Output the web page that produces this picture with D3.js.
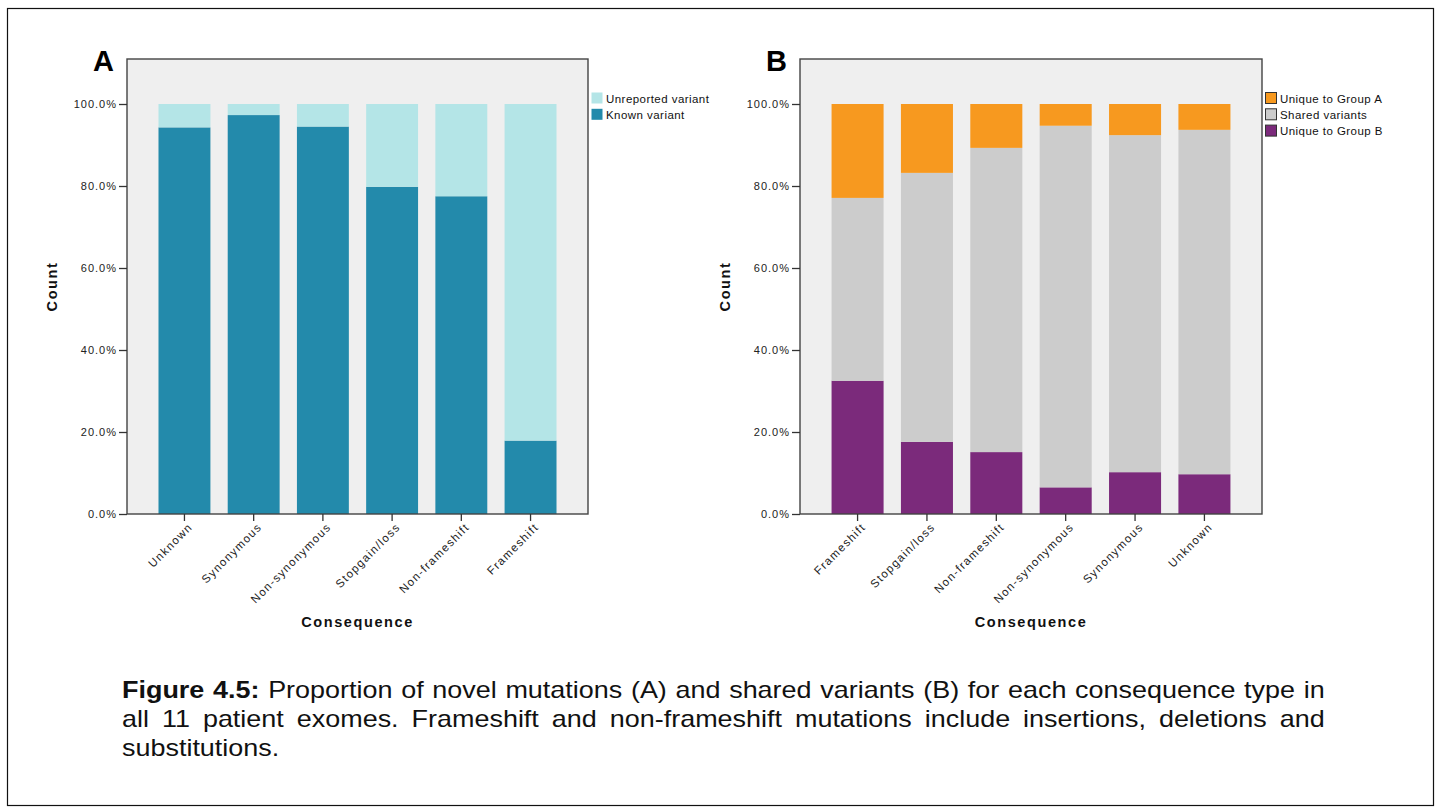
<!DOCTYPE html>
<html>
<head>
<meta charset="utf-8">
<script src="https://cdn.jsdelivr.net/npm/d3@7/dist/d3.min.js"></script>
<style>
  html, body { margin: 0; padding: 0; background: #fff; }
  svg { display: block; }
  .tick text { font-family: "Liberation Sans", Arial, sans-serif; fill: #222; }
  .y-axis .tick text { font-size: 11px; letter-spacing: 1px; }
  .x-axis .tick text { font-size: 11.5px; letter-spacing: 1.3px; }
</style>
</head>
<body>
<svg id="fig" width="1442" height="812"></svg>
<script>
// Panel A: share of novel (unreported) vs known variants per consequence type
const consequencesA = ["Unknown", "Synonymous", "Non-synonymous", "Stopgain/loss", "Non-frameshift", "Frameshift"];
const knownVariant = [94.3, 97.3, 94.5, 79.8, 77.5, 17.9];
const unreportedVariant = [5.7, 2.7, 5.5, 20.2, 22.5, 82.1];

// Panel B: variants unique to each group vs shared
const consequencesB = ["Frameshift", "Stopgain/loss", "Non-frameshift", "Non-synonymous", "Synonymous", "Unknown"];
const uniqueToGroupB = [32.5, 17.6, 15.1, 6.5, 10.2, 9.7];
const sharedVariants = [44.6, 65.6, 74.2, 88.2, 82.2, 84.0];
const uniqueToGroupA = [22.9, 16.8, 10.7, 5.3, 7.6, 6.3];

const yTickValues = [0, 20, 40, 60, 80, 100];

const captionLines = [
  { bold: "Figure 4.5:", text: " Proportion of novel mutations (A) and shared variants (B) for each consequence type in", justify: true },
  { bold: "", text: "all 11 patient exomes. Frameshift and non-frameshift mutations include insertions, deletions and", justify: true },
  { bold: "", text: "substitutions.", justify: false }
];

const FONT = '"Liberation Sans", Arial, sans-serif';
const svg = d3.select("#fig");

// outer figure frame
svg.append("rect")
  .attr("x", 7.5).attr("y", 8.5)
  .attr("width", 1426).attr("height", 797)
  .attr("fill", "none").attr("stroke", "#111").attr("stroke-width", 1.2);

function drawPanel(opts) {
  const { left, right, top, bottom, letter, categories, series, legend } = opts;
  const g = svg.append("g");

  const x = d3.scaleBand()
    .domain(categories)
    .range([left, right])
    .paddingInner(0.25)
    .paddingOuter(0.455);

  const y = d3.scaleLinear().domain([0, 100]).range([bottom, 104]);

  // plot background
  g.append("rect")
    .attr("x", left).attr("y", top)
    .attr("width", right - left).attr("height", bottom - top)
    .attr("fill", "#efefef");

  // stacked bars
  const rows = categories.map((c, i) => {
    const r = { category: c };
    series.forEach(s => { r[s.key] = s.values[i]; });
    return r;
  });
  const stacked = d3.stack().keys(series.map(s => s.key))(rows);

  stacked.forEach((layer, li) => {
    g.append("g")
      .attr("fill", series[li].color)
      .selectAll("rect")
      .data(layer)
      .join("rect")
      .attr("x", d => x(d.data.category))
      .attr("width", x.bandwidth())
      .attr("y", d => y(d[1]))
      .attr("height", d => y(d[0]) - y(d[1]));
  });

  // frame
  g.append("rect")
    .attr("x", left).attr("y", top)
    .attr("width", right - left).attr("height", bottom - top)
    .attr("fill", "none").attr("stroke", "#444").attr("stroke-width", 1.4);

  // y axis
  const yAxis = g.append("g")
    .attr("class", "y-axis")
    .attr("transform", `translate(${left},0)`)
    .call(d3.axisLeft(y).tickValues(yTickValues).tickFormat(d => d.toFixed(1) + "%").tickSize(8).tickPadding(2));
  yAxis.select(".domain").remove();
  yAxis.selectAll(".tick line").attr("stroke", "#333").attr("stroke-width", 1.3);

  // x axis
  const xAxis = g.append("g")
    .attr("class", "x-axis")
    .attr("transform", `translate(0,${bottom})`)
    .call(d3.axisBottom(x).tickSize(7).tickPadding(3));
  xAxis.select(".domain").remove();
  xAxis.selectAll(".tick line").attr("stroke", "#333").attr("stroke-width", 1.3);
  xAxis.selectAll(".tick text")
    .attr("text-anchor", "end")
    .attr("dy", "0.35em")
    .attr("transform", "translate(6,11) rotate(-45)")
    .attr("x", 0).attr("y", 0);

  // axis titles
  g.append("text")
    .attr("x", (left + right) / 2).attr("y", 627)
    .attr("text-anchor", "middle")
    .attr("font-family", FONT).attr("font-weight", "bold").attr("font-size", 14.5)
    .attr("letter-spacing", 1.6)
    .attr("fill", "#111")
    .text("Consequence");

  g.append("text")
    .attr("transform", `translate(${left - 70},${(top + bottom) / 2}) rotate(-90)`)
    .attr("text-anchor", "middle")
    .attr("font-family", FONT).attr("font-weight", "bold").attr("font-size", 14.5)
    .attr("letter-spacing", 1.6)
    .attr("fill", "#111")
    .text("Count");

  // panel letter
  g.append("text")
    .attr("x", left - 34).attr("y", 71)
    .attr("font-family", FONT).attr("font-weight", "bold").attr("font-size", 29)
    .attr("fill", "#000")
    .text(letter);

  // legend
  const lg = g.append("g").attr("transform", `translate(${right + 3},92)`);
  legend.forEach((item, i) => {
    const row = lg.append("g").attr("transform", `translate(0,${i * 16.3})`);
    row.append("rect")
      .attr("x", 0.5).attr("y", 0.5)
      .attr("width", 11).attr("height", 11)
      .attr("fill", item.color)
      .attr("stroke", item.stroke || "none").attr("stroke-width", 1);
    row.append("text")
      .attr("x", 15).attr("y", 10.5)
      .attr("font-family", FONT).attr("font-size", 11.5)
      .attr("letter-spacing", 0.45)
      .attr("fill", "#111")
      .text(item.label);
  });
}

const colKnown = "#238aab";
const colUnreported = "#b4e5e7";
const colUniqueA = "#f7991f";
const colShared = "#cccccc";
const colUniqueB = "#7b2a7b";

drawPanel({
  left: 127, right: 588, top: 59, bottom: 514, letter: "A",
  categories: consequencesA,
  series: [
    { key: "known", values: knownVariant, color: colKnown },
    { key: "unreported", values: unreportedVariant, color: colUnreported }
  ],
  legend: [
    { label: "Unreported variant", color: colUnreported },
    { label: "Known variant", color: colKnown }
  ]
});

drawPanel({
  left: 800, right: 1262, top: 59, bottom: 514, letter: "B",
  categories: consequencesB,
  series: [
    { key: "uniqueB", values: uniqueToGroupB, color: colUniqueB },
    { key: "shared", values: sharedVariants, color: colShared },
    { key: "uniqueA", values: uniqueToGroupA, color: colUniqueA }
  ],
  legend: [
    { label: "Unique to Group A", color: colUniqueA, stroke: "#333" },
    { label: "Shared variants", color: colShared, stroke: "#333" },
    { label: "Unique to Group B", color: colUniqueB, stroke: "#333" }
  ]
});

// caption, justified between the left and right margins
const capLeft = 122, capRight = 1325;
const capNodes = captionLines.map((line, i) => {
  const t = svg.append("text")
    .attr("x", capLeft).attr("y", 698 + i * 29)
    .attr("font-family", FONT).attr("font-size", 23)
    .attr("fill", "#111")
    .attr("xml:space", "preserve");
  if (line.bold) t.append("tspan").attr("font-weight", "bold").text(line.bold);
  t.append("tspan").text(line.text);
  return t;
});

// widen glyphs slightly so the justified lines keep tight word gaps
const target = capRight - capLeft;
const widths = capNodes.map(t => t.node().getComputedTextLength());
const stretch = Math.min(0.985 * target / widths[0], 0.985 * target / widths[1]);
capNodes.forEach((t, i) => {
  const line = captionLines[i];
  t.attr("transform", `translate(${capLeft},0) scale(${stretch},1) translate(${-capLeft},0)`);
  if (line.justify) {
    const spaces = ((line.bold + line.text).match(/ /g) || []).length;
    const gap = target / stretch - widths[i];
    if (gap > 0 && spaces > 0) t.attr("word-spacing", gap / spaces);
  }
});
</script>
</body>
</html>
